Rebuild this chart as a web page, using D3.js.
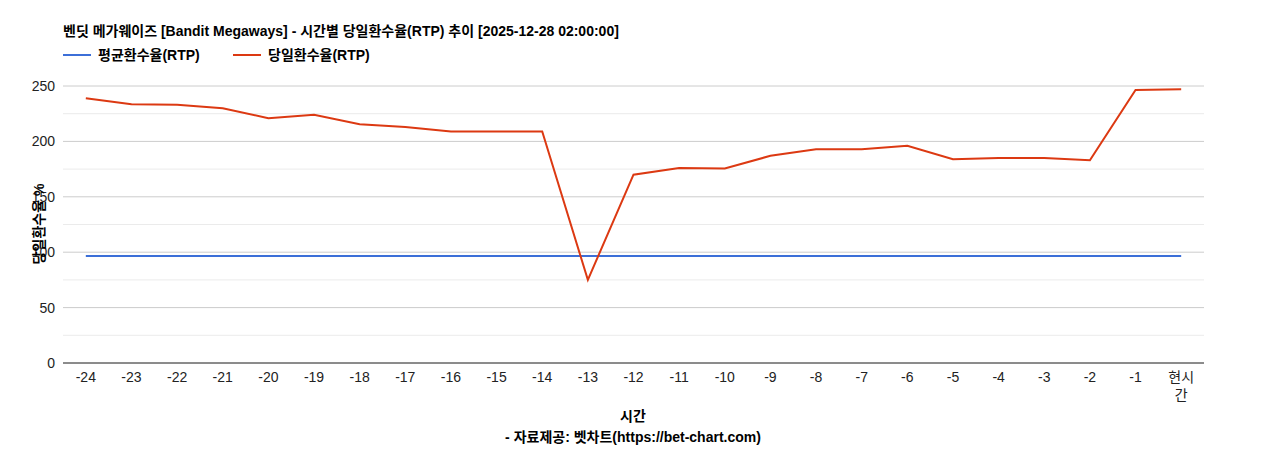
<!DOCTYPE html>
<html><head><meta charset="utf-8">
<script src="https://cdn.jsdelivr.net/npm/d3@7"></script>
<style>body{margin:0;background:#fff;font-family:"Liberation Sans","Noto Sans CJK KR",Arial,sans-serif}</style>
</head><body><svg width="1268" height="450"></svg>
<script>
const categories = ["-24","-23","-22","-21","-20","-19","-18","-17","-16","-15","-14","-13","-12","-11","-10","-9","-8","-7","-6","-5","-4","-3","-2","-1","현시간"];
const dailyRtp = [239,233.5,233,230,221,224,215.5,213,209,209,209,75,170,176,175.5,187,193,193,196,184,185,185,183,246.5,247];
const avgRtp = categories.map(() => 96.5);
const yTicks = [0,50,100,150,200,250];

var svg = d3.select("svg");
const m = {left: 63, right: 1204, top: 86, bottom: 363};

const x = d3.scaleBand().domain(categories).range([m.left, m.right]);
const y = d3.scaleLinear().domain([0, 250]).range([m.bottom, m.top]);

// grid
svg.append("g").selectAll("line")
	.data(d3.range(0, 251, 25))
	.join("line")
	.attr("x1", m.left).attr("x2", m.right)
	.attr("y1", d => y(d)).attr("y2", d => y(d))
	.attr("stroke", d => d % 50 == 0 ? "#ccc" : "#ebebeb");

svg.append("line").attr("x1", m.left).attr("x2", m.right)
	.attr("y1", m.bottom).attr("y2", m.bottom).attr("stroke", "#333");

svg.append("g").selectAll("text")
	.data(yTicks).join("text")
	.attr("x", m.left - 8).attr("y", d => y(d) + 5)
	.attr("text-anchor", "end").attr("font-size", 14).attr("fill", "#222")
	.text(d => d);

const xl = svg.append("g").selectAll("text")
	.data(categories).join("text")
	.attr("x", d => x(d) + x.bandwidth() / 2).attr("y", 382)
	.attr("text-anchor", "middle").attr("font-size", 14).attr("fill", "#222");
xl.each(function (d) {
	const t = d3.select(this);
	if (d == "현시간") {
		t.append("tspan").attr("x", x(d) + x.bandwidth() / 2).text("현시");
		t.append("tspan").attr("x", x(d) + x.bandwidth() / 2).attr("dy", 18).text("간");
	} else t.text(d);
});

const line = d3.line().x((d, i) => x(categories[i]) + x.bandwidth() / 2).y(d => y(d));
svg.append("path").datum(avgRtp).attr("d", line)
	.attr("fill", "none").attr("stroke", "#3c6fd8").attr("stroke-width", 2);
svg.append("path").datum(dailyRtp).attr("d", line)
	.attr("fill", "none").attr("stroke", "#dc3912").attr("stroke-width", 2);

// titles
svg.append("text").attr("x", 63).attr("y", 36).attr("font-size", 14).attr("font-weight", "bold")
	.text("벤딧 메가웨이즈 [Bandit Megaways] - 시간별 당일환수율(RTP) 추이 [2025-12-28 02:00:00]");

const legend = [["평균환수율(RTP)", "#3c6fd8", 63], ["당일환수율(RTP)", "#dc3912", 233]];
legend.forEach(([t, c, lx]) => {
	svg.append("line").attr("x1", lx).attr("x2", lx + 28).attr("y1", 55).attr("y2", 55)
		.attr("stroke", c).attr("stroke-width", 2);
	svg.append("text").attr("x", lx + 35).attr("y", 60).attr("font-size", 14).attr("font-weight", "bold").text(t);
});

svg.append("text").attr("x", 633).attr("y", 421).attr("text-anchor", "middle")
	.attr("font-size", 14).attr("font-weight", "bold").text("시간");
svg.append("text").attr("x", 633).attr("y", 442).attr("text-anchor", "middle")
	.attr("font-size", 14).attr("font-weight", "bold").text("- 자료제공: 벳차트(https://bet-chart.com)");
svg.append("text").attr("transform", "translate(44,224) rotate(-90)").attr("text-anchor", "middle")
	.attr("font-size", 14).attr("font-weight", "bold").text("당일환수율 %");
</script></body></html>
